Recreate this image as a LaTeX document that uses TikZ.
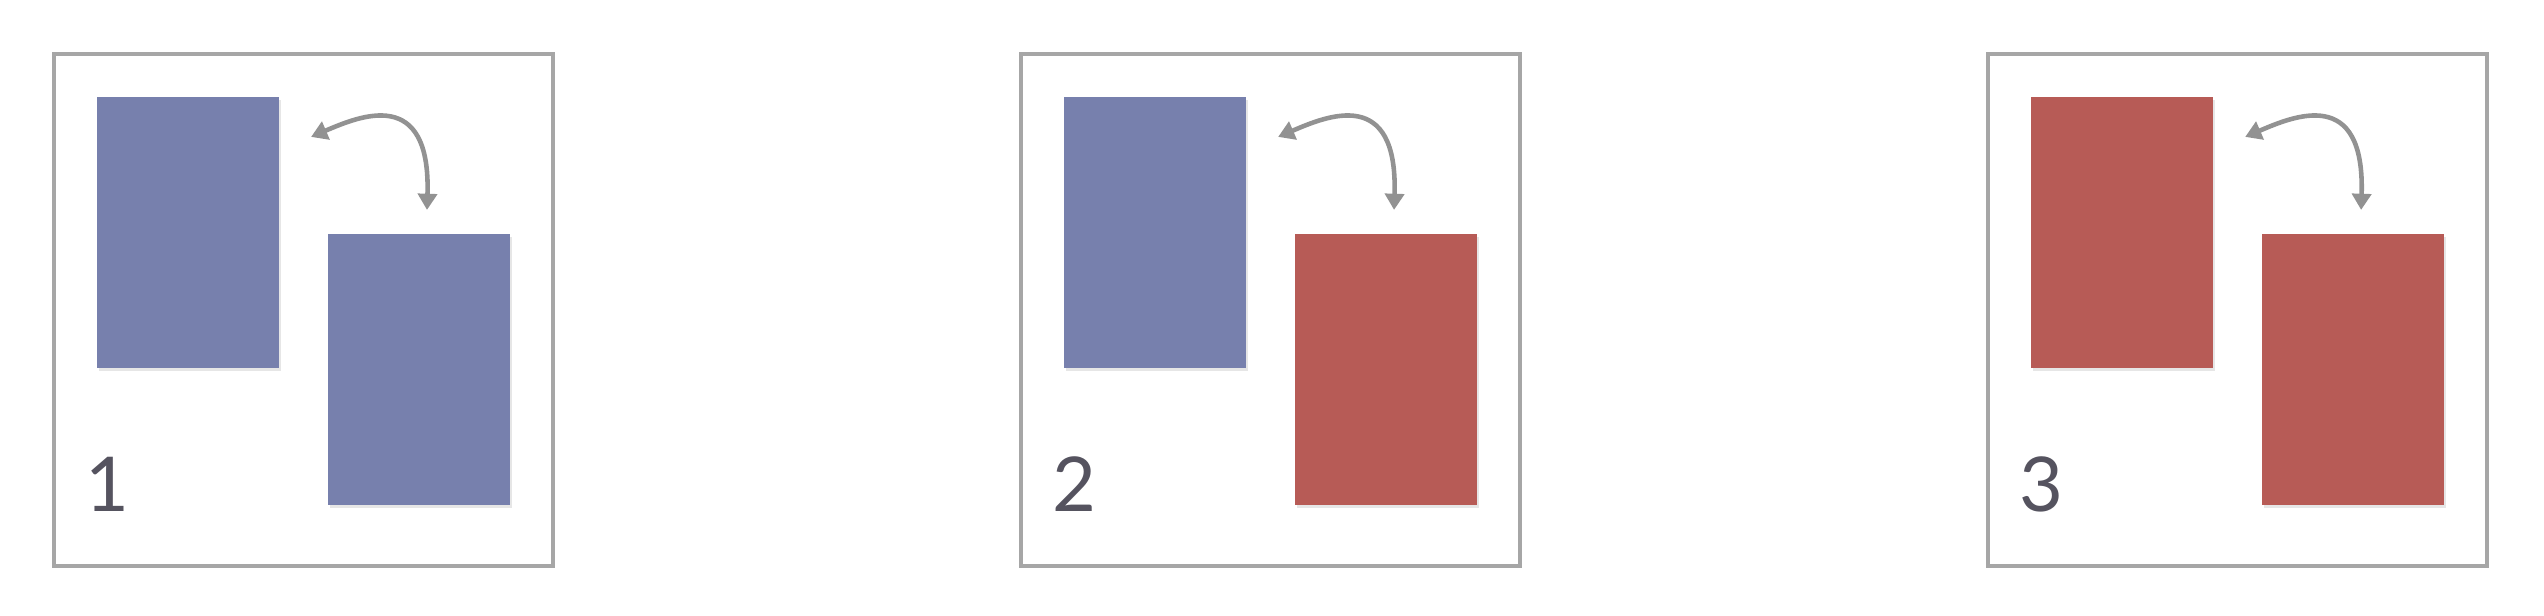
\documentclass[tikz,border=0pt]{standalone}
\usepackage{fontspec}
\setmainfont{Lato}
\usetikzlibrary{arrows.meta,calc,shadows}
\definecolor{swapblue}{RGB}{119,128,173}
\definecolor{swapred}{RGB}{183,91,86}
\definecolor{swapframe}{RGB}{166,166,166}
\definecolor{swaparrow}{RGB}{146,146,146}
\definecolor{swaplabel}{RGB}{85,83,95}
\tikzset{
  card/.style={minimum width=1.82cm,minimum height=2.71cm,inner sep=0pt,outer sep=0pt,
    drop shadow={opacity=0.2,shadow xshift=0.5pt,shadow yshift=-0.8pt}},
  panel/.style={draw=swapframe,line width=1.15pt,minimum width=4.99cm,minimum height=5.12cm,inner sep=0pt},
  swaparr/.style={{Triangle[length=4.6pt,width=5.4pt]}-{Triangle[length=4.6pt,width=5.4pt]},draw=swaparrow,line width=1.3pt},
  steplabel/.style={anchor=base west,inner sep=0pt,text=swaplabel,font=\fontsize{21.5}{22}\selectfont}
}
\begin{document}
\begin{tikzpicture}[x=0.01cm,y=-0.01cm]
\useasboundingbox (0,0) rectangle (2544,616);
% three steps: swap the two cards, left one first
\foreach \i/\n/\cola/\colb in {0/1/swapblue/swapblue,1/2/swapblue/swapred,2/3/swapred/swapred}{
  \begin{scope}[xshift=\i*9.665cm]
    \node[panel] (f\n) at (303.5,310) {};
    \node[card,fill=\cola] (a\n) at (188,232.5) {};
    \node[card,fill=\colb] (b\n) at (419,369.5) {};
    \coordinate (s\n) at ($(a\n.north east)+(32,40)$);
    \coordinate (e\n) at ($(b\n.north)+(8,-24)$);
    \draw[swaparr] (s\n).. controls +(49,-21) and +(4,-124) ..(e\n);
    \node[steplabel] (n\n) at (85,512) {\n};
  \end{scope}
}
\end{tikzpicture}
\end{document}
